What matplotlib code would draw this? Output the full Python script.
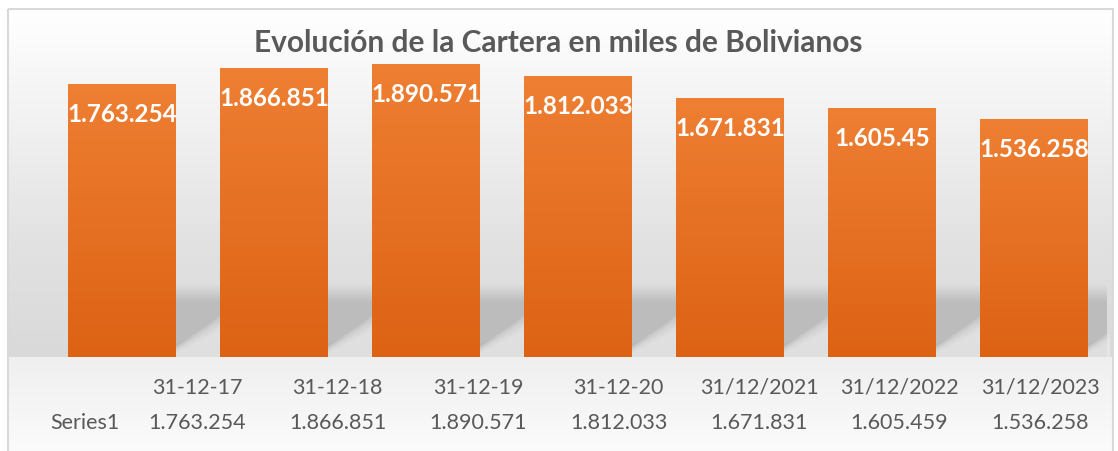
import matplotlib
matplotlib.use("Agg")
import matplotlib.pyplot as plt
import numpy as np
from matplotlib.colors import LinearSegmentedColormap

# data
fechas = ["31-12-17", "31-12-18", "31-12-19", "31-12-20", "31/12/2021", "31/12/2022", "31/12/2023"]
cartera = [1763254, 1866851, 1890571, 1812033, 1671831, 1605459, 1536258]
etiquetas = ["1.763.254", "1.866.851", "1.890.571", "1.812.033", "1.671.831", "1.605.45", "1.536.258"]
tabla = ["1.763.254", "1.866.851", "1.890.571", "1.812.033", "1.671.831", "1.605.459", "1.536.258"]
serie = "Series1"

W, H = 1118, 452
fig = plt.figure(figsize=(W / 100, H / 100), dpi=100)
plt.rcParams['font.family'] = ['Lato', 'DejaVu Sans']
gris_txt = "#595959"

# background of the chart area (pixel coords)
bg = fig.add_axes([0, 0, 1, 1], zorder=0)
bg.set_xlim(0, W)
bg.set_ylim(H, 0)
bg.axis("off")
top = LinearSegmentedColormap.from_list("top", ["#ffffff", "#f1f1f1", "#e2e2e2", "#d9d9d9"])
bot = LinearSegmentedColormap.from_list("bot", ["#efefef", "#fbfbfb"])
grad = np.linspace(0, 1, 256).reshape(-1, 1)
bg.imshow(grad, cmap=top, extent=(8, 1113, 358, 10), aspect="auto", zorder=0)
bg.imshow(grad, cmap=bot, extent=(8, 1113, H, 358), aspect="auto", zorder=0)
bg.add_patch(plt.Rectangle((8, 10), 1105, 450, fill=False, ec="#d9d9d9", lw=1.5, zorder=1))

# main plot
ymax = 2000000
ax = fig.add_axes([46 / W, 94 / H, 1064 / W, 309.6 / H], zorder=2)
ax.patch.set_alpha(0)
ax.set_xlim(-0.5, 6.5)
ax.set_ylim(0, ymax)
ax.axis("off")
x = np.arange(len(cartera))
ancho = 0.71

# floor shadow band behind the bars
banda = ymax * 73 / 309.6
sombra = np.ones((256, 1, 4))
yy = np.linspace(1, 0, 256)  # 1 = top of band
sombra[:, 0, 0:3] = 0.70
alpha = np.clip((1 - yy) / 0.25, 0, 1) * 0.75
sombra[:, 0, 3] = alpha
ax.imshow(sombra, extent=(x[0] - ancho / 2, 6.48, 0, banda), aspect="auto", zorder=1, origin="upper")
for i in x:
    xa = i + ancho / 2
    xb = i + 1 - ancho / 2
    for k in range(6):
        ya = ymax * (4 + k * 1.2) / 309.6
        yb = ymax * (26 + k * 3) / 309.6
        ax.fill([xa, xa, xb, xb], [0, ya, yb, 0], color="#ececec", alpha=0.22, lw=0, zorder=1.5)

# gradient bars
naranja = LinearSegmentedColormap.from_list("nar", ["#dd6214", "#ee7f33"])
bars = ax.bar(x, cartera, width=ancho, color="none", zorder=3)
for b in bars:
    x0, y0 = b.get_x(), b.get_y()
    ax.imshow(grad[::-1], cmap=naranja, extent=(x0, x0 + b.get_width(), y0, y0 + b.get_height()),
              aspect="auto", zorder=3, origin="upper")
ax.set_xlim(-0.5, 6.5)
ax.set_ylim(0, ymax)

for b, t in zip(bars, etiquetas):
    ax.annotate(t, (b.get_x() + b.get_width() / 2, b.get_height()), xytext=(0, -29),
                textcoords="offset pixels", ha="center", va="center", color="white",
                fontsize=17.5, fontweight="bold", zorder=5)

fig.text(558 / W, 1 - 43 / H, "Evolución de la Cartera en miles de Bolivianos", ha="center", va="center",
         fontsize=21.5, fontweight="bold", color=gris_txt)

# data table
col0 = 126.75
colw = 140.5
fig.text(85 / W, 1 - 423 / H, serie, ha="center", va="center", fontsize=15.5, color=gris_txt)
for i, (f, v) in enumerate(zip(fechas, tabla)):
    cx = (col0 + (i + 0.5) * colw) / W
    fig.text(cx, 1 - 388 / H, f, ha="center", va="center", fontsize=15.5, color=gris_txt)
    fig.text(cx, 1 - 423 / H, v, ha="center", va="center", fontsize=15.5, color=gris_txt)

fig.savefig("out.png", dpi=100)
